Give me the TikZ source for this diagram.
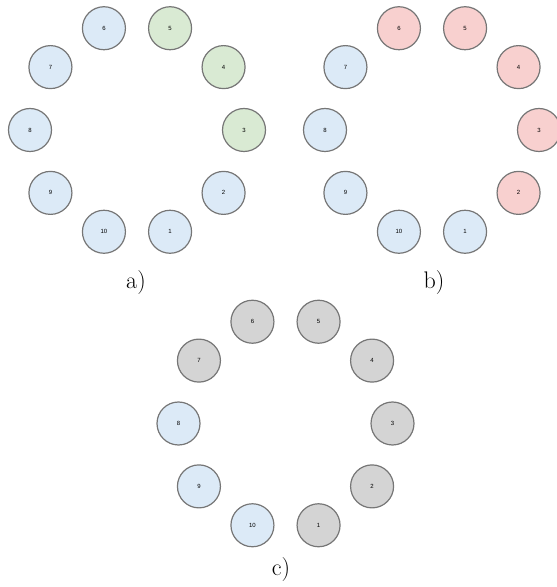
\documentclass[tikz,border=0pt]{standalone}
\usepackage{fontspec}
\setsansfont{Liberation Sans}
\usepackage{tikz}

\definecolor{ballblue}{HTML}{DCEAF7}
\definecolor{ballgreen}{HTML}{D9EAD3}
\definecolor{ballred}{HTML}{F8D0CF}
\definecolor{ballgray}{HTML}{D4D4D4}
\definecolor{rimgray}{HTML}{767676}

\begin{document}
\begin{tikzpicture}[x=1pt, y=1pt,
    ball/.style={circle, draw=rimgray, line width=1.2pt, minimum size=43pt,
        inner sep=0pt, font=\sffamily\fontsize{6}{7}\selectfont},
    caption/.style={font=\fontsize{24}{28}\selectfont, inner sep=0pt}]
    \useasboundingbox (0,0) rectangle (557,587);

    % ring a
    \begin{scope}[shift={(137,457)}]
        \foreach \n/\col in {1/ballblue,2/ballblue,3/ballgreen,4/ballgreen,5/ballgreen,
                             6/ballblue,7/ballblue,8/ballblue,9/ballblue,10/ballblue}
            \node[ball, fill=\col] (a\n) at ({(\n-3)*36}:107) {\n};
    \end{scope}
    \node[caption] (alabel) at (136,304.5) {a)};

    % ring b
    \begin{scope}[shift={(432,457)}]
        \foreach \n/\col in {1/ballblue,2/ballred,3/ballred,4/ballred,5/ballred,
                             6/ballred,7/ballblue,8/ballblue,9/ballblue,10/ballblue}
            \node[ball, fill=\col] (b\n) at ({(\n-3)*36}:107) {\n};
    \end{scope}
    \node[caption] (blabel) at (434,304.5) {b)};

    % ring c
    \begin{scope}[shift={(285.5,163.5)}]
        \foreach \n/\col in {1/ballgray,2/ballgray,3/ballgray,4/ballgray,5/ballgray,
                             6/ballgray,7/ballgray,8/ballblue,9/ballblue,10/ballblue}
            \node[ball, fill=\col] (c\n) at ({(\n-3)*36}:107) {\n};
    \end{scope}
    \node[caption] (clabel) at (281,17) {c)};
\end{tikzpicture}
\end{document}
